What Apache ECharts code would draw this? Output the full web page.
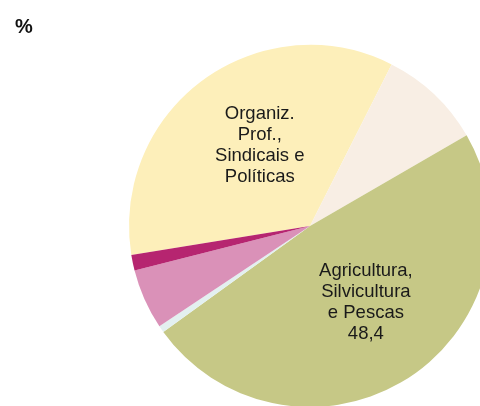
<!DOCTYPE html>
<html>
<head>
<meta charset="utf-8">
<script src="https://cdn.jsdelivr.net/npm/echarts@6/dist/echarts.min.js"></script>
<style>html,body{margin:0;padding:0;background:#fff}#c{width:480px;height:406px}</style>
</head>
<body>
<div id="c"></div>
<script>
const categories = [
  "Organiz. Prof., Sindicais e Políticas",
  "Outros",
  "Agricultura, Silvicultura e Pescas",
  "Indústria",
  "Comércio e Serviços",
  "Administração Pública"
];
const values = [35.0, 9.2, 48.4, 0.6, 5.4, 1.4];
const labelTexts = [
  "Organiz.\nProf.,\nSindicais e\nPolíticas",
  "",
  "Agricultura,\nSilvicultura\ne Pescas\n48,4",
  "",
  "",
  ""
];
const colors = ["#FDEFBA", "#F8EEE4", "#C6C886", "#E3F0F0", "#DA91B8", "#B62570"];

const chart = echarts.init(document.getElementById('c'), null, {renderer: 'canvas'});
const data = categories.map((n, i) => ({
  name: n,
  value: values[i],
  itemStyle: {color: colors[i]},
  label: {show: labelTexts[i] !== '', formatter: labelTexts[i]}
}));
chart.setOption({
  animation: false,
  title: {
    text: '%', left: 10, top: 12,
    textStyle: {fontFamily: 'Liberation Sans, Arial', fontSize: 20, fontWeight: 'bold', color: '#111'}
  },
  series: [{
    type: 'pie',
    center: [310, 226],
    radius: [0, 181],
    startAngle: 189.2,
    clockwise: true,
    avoidLabelOverlap: false,
    itemStyle: {borderWidth: 0},
    label: {
      position: 'inside',
      fontFamily: 'Liberation Sans, Arial',
      fontSize: 18.5,
      lineHeight: 21,
      color: '#1a1a1a',
      align: 'center'
    },
    labelLine: {show: false},
    labelLayout: function (p) {
      if (p.dataIndex === 0) return {dx: 5, dy: -5};
      if (p.dataIndex === 2) return {dx: 5, dy: -2};
      return {};
    },
    emphasis: {disabled: true},
    data: data
  }]
});
</script>
</body>
</html>
